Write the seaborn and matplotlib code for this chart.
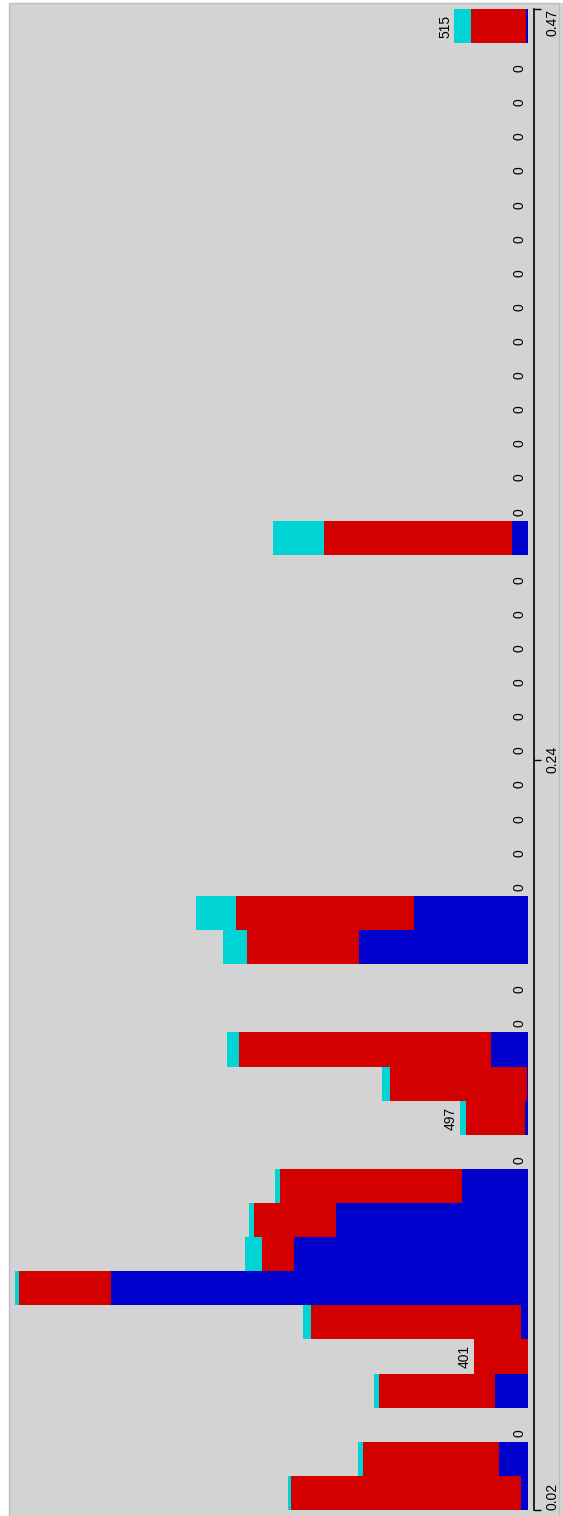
import matplotlib
matplotlib.use("Agg")
import matplotlib.pyplot as plt
import seaborn as sns
import pandas as pd
from matplotlib.patches import Rectangle

# ---- data (bins from bottom 0.02 to top 0.47) ----
bins = [f"bin{i:02d}" for i in range(44)]
blue = [7, 29, 0, 33, 0, 7, 417, 234, 192, 66, 0, 3, 1, 37, 0, 0, 169, 114,
        0, 0, 0, 0, 0, 0, 0, 0, 0, 0,
        16,
        0, 0, 0, 0, 0, 0, 0, 0, 0, 0, 0, 0, 0, 0,
        2]
red = [230, 136, 0, 116, 54, 210, 92, 32, 82, 182, 0, 59, 137, 252, 0, 0, 112, 178,
       0, 0, 0, 0, 0, 0, 0, 0, 0, 0,
       188,
       0, 0, 0, 0, 0, 0, 0, 0, 0, 0, 0, 0, 0, 0,
       55]
cyan = [3, 5, 0, 5, 0, 8, 4, 17, 5, 5, 0, 6, 8, 12, 0, 0, 24, 40,
        0, 0, 0, 0, 0, 0, 0, 0, 0, 0,
        51,
        0, 0, 0, 0, 0, 0, 0, 0, 0, 0, 0, 0, 0, 0,
        17]
bar_labels = ["", "", "0", "", "401", "", "", "", "", "", "0", "497", "", "", "0", "0", "", "",
              "0", "0", "0", "0", "0", "0", "0", "0", "0", "0",
              "",
              "0", "0", "0", "0", "0", "0", "0", "0", "0", "0", "0", "0", "0", "0",
              "515"]
tick_labels = ["0.02", "0.24", "0.47"]

BLUE = "#0000cd"
RED = "#d40000"
CYAN = "#00d4d4"
BG = "#d3d3d3"

plt.rcParams["font.family"] = ["Liberation Sans", "DejaVu Sans"]

df = pd.DataFrame({"bin": bins, "blue": blue, "red": red, "cyan": cyan})
df["br"] = df["blue"] + df["red"]
df["total"] = df["br"] + df["cyan"]
order = bins[::-1]
n = len(bins)

W, H = 563, 1516
fig = plt.figure(figsize=(W / 100, H / 100), dpi=100, facecolor="white")
fig.patches.append(Rectangle((9 / W, -0.01), (559 - 9) / W, (H - 3) / H + 0.01,
                             transform=fig.transFigure, facecolor=BG,
                             edgecolor="#bdbdbd", lw=1, zorder=-10))
fig.patches.append(Rectangle((559.5 / W, -0.01), 4 / W, (H - 3) / H + 0.01,
                             transform=fig.transFigure, facecolor=BG,
                             edgecolor="none", zorder=-9))

ax = fig.add_axes([9 / W, 6 / H, 519 / W, 1501 / H])
ax.set_facecolor("none")

common = dict(y="bin", order=order, orient="h", saturation=1, width=1,
              linewidth=0, errorbar=None, ax=ax)
sns.barplot(data=df, x="total", color=CYAN, **common)
sns.barplot(data=df, x="br", color=RED, **common)
sns.barplot(data=df, x="blue", color=BLUE, **common)

ax.set_xlim(519, 0)
ax.set_ylim(n - 0.5, -0.5)
ax.set_xlabel("")
ax.set_ylabel("")
ax.set_xticks([])

for i, lab in enumerate(bar_labels):
    if lab:
        pos = n - 1 - i
        ax.text(df["total"][i] + 2, pos + 0.35, lab, rotation=90,
                ha="right", va="bottom", fontsize=10, clip_on=False)

for s in ["top", "left", "bottom"]:
    ax.spines[s].set_visible(False)
ax.spines["right"].set_position(("outward", 4))
ax.spines["right"].set_bounds(n - 0.5, -0.5)
ax.spines["right"].set_linewidth(1.2)

ax.yaxis.tick_right()
ax.set_yticks([n - 0.5, (n - 1) / 2, -0.5])
ax.set_yticklabels(tick_labels)
ax.tick_params(axis="y", direction="out", length=5, width=1, pad=3.5,
               labelsize=10, right=True, left=False, labelright=True,
               labelleft=False, color="black", labelrotation=90)
for tick, va in zip(ax.yaxis.get_major_ticks(), ["bottom", "center", "top"]):
    tick.label2.set_rotation(90)
    tick.label2.set_verticalalignment(va)
    tick.label2.set_horizontalalignment("left")

fig.savefig("out.png", dpi=100, facecolor=fig.get_facecolor())
